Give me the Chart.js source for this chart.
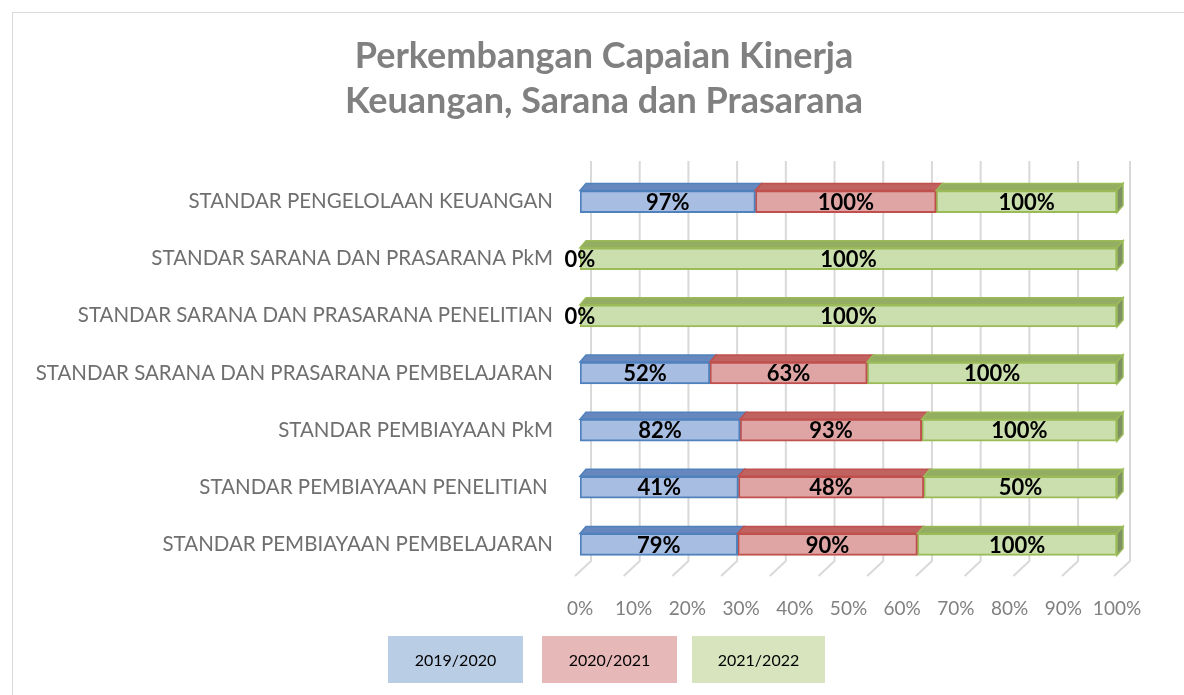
<!DOCTYPE html>
<html>
<head>
<meta charset="utf-8">
<script src="https://cdn.jsdelivr.net/npm/chart.js@4"></script>
<style>
  body { margin: 0; background: #fff; }
  #wrap { position: relative; width: 1184px; height: 695px; overflow: hidden; }
  #frame { position: absolute; left: 12px; top: 12px; width: 1200px; height: 720px; border: 1px solid #d9d9d9; }
  #legend { position: absolute; top: 636px; left: 0; width: 1184px; height: 47px; }
  .lg { position: absolute; top: 0; height: 47px; font: 16px Lato, "Open Sans", sans-serif; color: #000;
        display: flex; align-items: center; justify-content: center; }
</style>
</head>
<body>
<div id="wrap">
  <div id="frame"></div>
  <canvas id="chart" width="1184" height="695" style="position:absolute;left:0;top:0"></canvas>
  <div id="legend"></div>
</div>
<script>
var categories = [
	'STANDAR PENGELOLAAN KEUANGAN',
	'STANDAR SARANA DAN PRASARANA PkM',
	'STANDAR SARANA DAN PRASARANA PENELITIAN',
	'STANDAR SARANA DAN PRASARANA PEMBELAJARAN',
	'STANDAR PEMBIAYAAN PkM',
	'STANDAR PEMBIAYAAN PENELITIAN ',
	'STANDAR PEMBIAYAAN PEMBELAJARAN'
];
var seriesNames = ['2019/2020', '2020/2021', '2021/2022'];
var values2019 = [97, 0, 0, 52, 82, 41, 79];
var values2020 = [100, null, null, 63, 93, 48, 90];
var values2021 = [100, 100, 100, 100, 100, 50, 100];

var fronts = ['#a7bde2', '#dfa5a4', '#cadfad'];
var borders = ['#4f81bd', '#c0504d', '#9bbb59'];
var tops = ['#6688bf', '#c0625f', '#93ad62'];
var sides = ['#4a6a9c', '#9c4a48', '#7d9162'];
var legendFill = ['#b9cde5', '#e6b9b8', '#d7e4bd'];

var raw = [values2019, values2020, values2021];

// 100% stacked: share of each row
var shares = raw.map(function(arr) {
	return arr.map(function(v, i) {
		if (v === null) return null;
		var sum = 0;
		raw.forEach(function(a) { sum += (a[i] || 0); });
		return v / sum * 100;
	});
});

var DX = 6, DY = 7;

var bar3d = {
	id: 'bar3d',
	afterLayout: function(chart) {
		// title is centred over the whole frame, not only the plot
		if (chart.titleBlock) {
			chart.titleBlock.left = 24;
			chart.titleBlock.right = 1184;
			chart.titleBlock.width = 1160;
		}
	},
	beforeDatasetsDraw: function(chart) {
		var ctx = chart.ctx, xs = chart.scales.x, area = chart.chartArea;
		var backTop = area.top - 12, backBottom = area.bottom - 12;
		ctx.save();
		ctx.strokeStyle = '#d9d9d9';
		ctx.lineWidth = 2;
		for (var v = 0; v <= 100; v += 10) {
			var xf = xs.getPixelForValue(v);
			var xb = area.left + 11 + (xf - area.left) * 0.907;
			ctx.beginPath();
			ctx.moveTo(xb, backTop);
			ctx.lineTo(xb, backBottom);
			ctx.lineTo(xb - 16, backBottom + 15);
			ctx.stroke();
		}
		ctx.beginPath();
		ctx.moveTo(area.right + 13, backTop);
		ctx.lineTo(area.right + 13, backBottom);
		ctx.lineTo(area.right - 3, backBottom + 15);
		ctx.stroke();
		ctx.restore();
	},
	afterDatasetsDraw: function(chart) {
		var ctx = chart.ctx;
		ctx.save();
		var n = chart.data.labels.length;
		for (var i = 0; i < n; i++) {
			var last = -1;
			chart.data.datasets.forEach(function(ds, di) { if (ds.data[i] !== null && ds.data[i] > 0) last = di; });
			chart.data.datasets.forEach(function(ds, di) {
				if (ds.data[i] === null) return;
				var bar = chart.getDatasetMeta(di).data[i];
				var p = bar.getProps(['x', 'y', 'base', 'height'], true);
				var l = Math.min(p.x, p.base), r = Math.max(p.x, p.base);
				var t = p.y - p.height / 2, b = p.y + p.height / 2;
				if (r - l < 1) return;
				ctx.lineWidth = 1.5;
				ctx.strokeStyle = borders[di];
				ctx.fillStyle = tops[di];
				ctx.beginPath();
				ctx.moveTo(l, t); ctx.lineTo(l + DX, t - DY); ctx.lineTo(r + DX, t - DY); ctx.lineTo(r, t);
				ctx.closePath(); ctx.fill(); ctx.stroke();
				if (di === last) {
					ctx.fillStyle = sides[di];
					ctx.beginPath();
					ctx.moveTo(r, t); ctx.lineTo(r + DX, t - DY); ctx.lineTo(r + DX, b - DY); ctx.lineTo(r, b);
					ctx.closePath(); ctx.fill(); ctx.stroke();
				}
			});
		}
		// value labels
		ctx.font = 'bold 22px Lato, "Open Sans", sans-serif';
		ctx.fillStyle = '#000';
		ctx.textAlign = 'center';
		ctx.textBaseline = 'middle';
		chart.data.datasets.forEach(function(ds, di) {
			chart.getDatasetMeta(di).data.forEach(function(bar, i) {
				if (raw[di][i] === null) return;
				var p = bar.getProps(['x', 'y', 'base'], true);
				ctx.fillText(raw[di][i] + '%', (p.x + p.base) / 2, p.y + 1);
			});
		});
		ctx.restore();
	}
};

var chart = new Chart(document.getElementById('chart'), {
	type: 'bar',
	data: {
		labels: categories,
		datasets: seriesNames.map(function(name, k) {
			return {
				label: name,
				data: shares[k],
				backgroundColor: fronts[k],
				borderColor: borders[k],
				borderWidth: 2,
				borderSkipped: false,
				barThickness: 22
			};
		})
	},
	options: {
		indexAxis: 'y',
		responsive: false,
		animation: false,
		layout: { padding: { left: 12, right: 67, top: 12, bottom: 0 } },
		plugins: {
			legend: { display: false },
			tooltip: { enabled: false },
			title: {
				display: true,
				text: ['Perkembangan Capaian Kinerja', 'Keuangan, Sarana dan Prasarana'],
				color: '#808080',
				font: { family: 'Lato', size: 36, weight: 'bold', lineHeight: 1.25 },
				padding: { top: 22, bottom: 49 }
			}
		},
		scales: {
			x: {
				stacked: true,
				min: 0, max: 100,
				grid: { display: false, drawTicks: false },
				border: { display: false },
				ticks: {
					stepSize: 10,
					padding: 24,
					maxRotation: 0,
					autoSkip: false,
					color: '#808080',
					font: { family: 'Lato', size: 19 },
					callback: function(v) { return v + '%'; }
				},
				afterFit: function(s) { s.height = 122; }
			},
			y: {
				stacked: true,
				grid: { display: false, drawTicks: false },
				border: { display: false },
				ticks: {
					padding: 27,
					color: '#6f6f6f',
					font: { family: 'Lato', size: 20.5 }
				},
				afterFit: function(s) { s.width = 568; }
			}
		}
	},
	plugins: [bar3d]
});

// legend boxes below the chart
var lefts = [388, 542, 692], widths = [135, 135, 133];
var lg = document.getElementById('legend');
seriesNames.forEach(function(name, k) {
	var d = document.createElement('div');
	d.className = 'lg';
	d.style.left = lefts[k] + 'px';
	d.style.width = widths[k] + 'px';
	d.style.background = legendFill[k];
	d.textContent = name;
	lg.appendChild(d);
});
</script>
</body>
</html>
